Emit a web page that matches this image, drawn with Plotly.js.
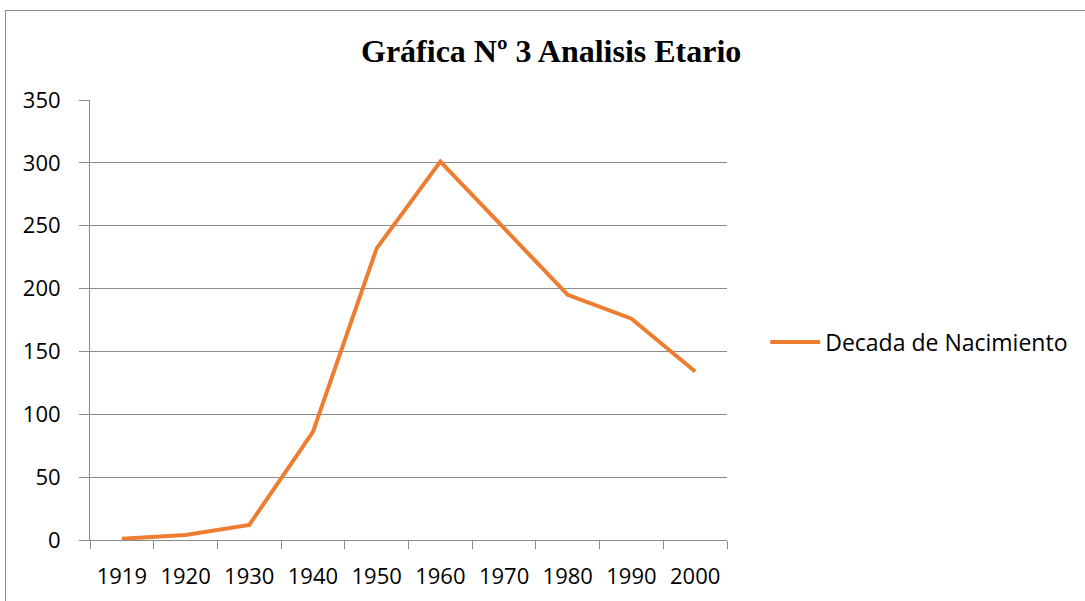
<!DOCTYPE html>
<html>
<head>
<meta charset="utf-8">
<script src="https://cdn.plot.ly/plotly-3.0.1.min.js"></script>
<style>
html,body{margin:0;padding:0;background:#fff;}
#wrap{position:relative;width:1085px;height:601px;overflow:hidden;}
#chart{position:absolute;left:0;top:0;width:1085px;height:601px;}
#frame{position:absolute;left:5px;top:10px;width:2000px;height:2000px;border-left:1px solid #8c8c8c;border-top:1px solid #8c8c8c;pointer-events:none;}
</style>
</head>
<body>
<div id="wrap"><div id="chart"></div><div id="frame"></div></div>
<script>
const categories = ['1919','1920','1930','1940','1950','1960','1970','1980','1990','2000'];
const values = [1, 4, 12, 86, 232, 301, 248, 195, 176, 134];
const seriesName = 'Decada de Nacimiento';
const titleText = 'Gráfica Nº 3 Analisis Etario';

const trace = {
  x: categories, y: values, type: 'scatter', mode: 'lines', name: seriesName,
  line: {color: '#ED7D31', width: 4}
};
const tickFont = {family: 'Open Sans, sans-serif', size: 22, color: '#000'};
const layout = {
  width: 1085, height: 601,
  margin: {l: 90, r: 358, t: 100, b: 61},
  paper_bgcolor: 'rgba(0,0,0,0)', plot_bgcolor: '#fff',
  showlegend: true,
  title: {text: '<b>' + titleText + '</b>', font: {family: 'Liberation Serif, Times New Roman, serif', size: 32, color: '#000'},
          x: 0.508, xref: 'container', xanchor: 'center', y: 0.915, yanchor: 'middle'},
  xaxis: {type: 'category', range: [-0.5, 9.5], tickson: 'boundaries', ticks: 'outside', ticklen: 8,
          tickcolor: '#8c8c8c', tickwidth: 1, showline: true, linecolor: '#8c8c8c', linewidth: 1,
          showgrid: false, tickfont: tickFont, ticklabelstandoff: 17, fixedrange: true},
  yaxis: {range: [0, 350], dtick: 50, tick0: 0, ticks: 'outside', ticklen: 10, tickcolor: '#8c8c8c',
          showline: true, linecolor: '#8c8c8c', linewidth: 1, showgrid: true, gridcolor: '#8c8c8c', gridwidth: 1,
          zeroline: false, tickfont: tickFont, ticklabelstandoff: 14, fixedrange: true},
  legend: {x: 1.06, xanchor: 'left', y: 0.45, yanchor: 'middle', font: {family: 'Open Sans, sans-serif', size: 23, color: '#000'},
           itemwidth: 50, bgcolor: 'rgba(0,0,0,0)'}
};
Plotly.newPlot('chart', [trace], layout, {displayModeBar: false, staticPlot: true});
</script>
</body>
</html>
